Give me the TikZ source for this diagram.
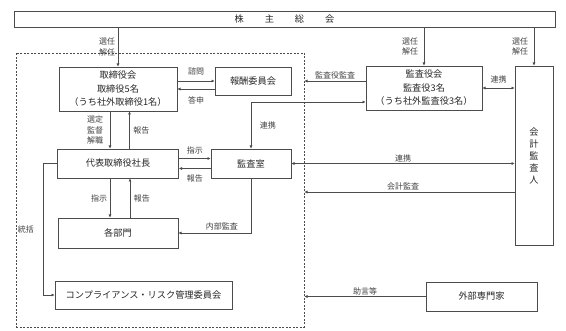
\documentclass[tikz,border=0pt]{standalone}
\usepackage{fontspec}
\setmainfont{Noto Sans CJK JP}
\usetikzlibrary{arrows.meta}

\tikzset{
    box/.style = {draw = black!70, line width = 0.6pt, inner sep = 0pt, align = center, text = black!85, font = \fontsize{9.2}{13.5}\selectfont},
    lbl/.style = {inner sep = 1.5pt, align = center, text = black!75, font = \fontsize{8}{10.5}\selectfont},
    conn/.style = {draw = black!70, line width = 0.6pt}
}

\begin{document}
\begin{tikzpicture}[x = 1pt, y = -1pt, >= {Latex[length = 3.2pt, width = 3pt]}]

    \useasboundingbox (0, 0) rectangle (566, 331);

      %general meeting and company frame
      \node (soukai) at (284.5, 19) [box, minimum width = 541pt, minimum height = 16pt] {株\hspace{21pt}主\hspace{21pt}総\hspace{21pt}会};
      \node (frame) at (160, 190) [draw = black!70, line width = 0.6pt, dash pattern = on 2pt off 1.5pt, inner sep = 0pt, minimum width = 288pt, minimum height = 274pt] {};

      %boxes
      \node (torishimari) at (118, 89) [box, minimum width = 118pt, minimum height = 44pt] {取締役会\\取締役5名\\（うち社外取締役1名）};
      \node (houshu) at (253, 81) [box, minimum width = 76pt, minimum height = 28pt] {報酬委員会};
      \node (kansayaku) at (424, 88) [box, minimum width = 116pt, minimum height = 44pt] {監査役会\\監査役3名\\（うち社外監査役3名）};
      \node (kaikei) at (534, 155.5) [box, minimum width = 38pt, minimum height = 179pt, font = \fontsize{9.2}{12}\selectfont] {会\\計\\監\\査\\人};
      \node (daihyo) at (118, 163.5) [box, minimum width = 121pt, minimum height = 29pt] {代表取締役社長};
      \node (kansashitsu) at (251, 163.5) [box, minimum width = 80pt, minimum height = 29pt] {監査室};
      \node (bumon) at (118, 233) [box, minimum width = 120pt, minimum height = 30pt] {各部門};
      \node (risk) at (143.5, 295) [box, minimum width = 177pt, minimum height = 28pt] {コンプライアンス・リスク管理委員会};
      \node (gaibu) at (481.5, 296.5) [box, minimum width = 111pt, minimum height = 29pt] {外部専門家};

      \coordinate (kansaOut) at ([yshift = 7pt] kansayaku.west);
      \coordinate (kaikeiOut) at ([yshift = -36.5pt] kaikei.west);

      %appointment
      \draw[conn, ->] (soukai.south -| torishimari) -- (torishimari.north) node [lbl, midway, left = 1pt] {選任\\解任};
      \draw[conn, ->] (soukai.south -| kansayaku) -- (kansayaku.north) node [lbl, midway, left = 4pt] {選任\\解任};
      \draw[conn, ->] (soukai.south -| kaikei) -- (kaikei.north) node [lbl, midway, left = 4pt] {選任\\解任};

    %board, committee and president
    \draw[conn, ->] (torishimari.east |- houshu.west) -- (houshu.west) node [lbl, midway, above = 4pt] {諮問};
    \draw[conn, ->] (houshu.west |- torishimari.east) -- (torishimari.east) node [lbl, midway, below = 6pt] {答申};
    \draw[conn, ->] ([xshift = -8pt] torishimari.south) -- ([xshift = -8pt] daihyo.north) node [lbl, midway, left = 5pt] {選定\\監督\\解職};
    \draw[conn, <-] ([xshift = 11.5pt] torishimari.south) -- ([xshift = 11.5pt] daihyo.north) node [lbl, midway, right = 2pt] {報告};

    \draw[conn, ->] ([yshift = 5pt] daihyo.east) -- ([yshift = 5pt] kansashitsu.west) node [lbl, midway, above = 3pt] {指示};
    \draw[conn, <-] ([yshift = -5pt] daihyo.east) -- ([yshift = -5pt] kansashitsu.west) node [lbl, midway, below = 4pt] {報告};
    \draw[conn, ->] ([xshift = -8pt] daihyo.south) -- ([xshift = -8pt] bumon.north) node [lbl, midway, left = 1pt] {指示};
    \draw[conn, <-] ([xshift = 12pt] daihyo.south) -- ([xshift = 12pt] bumon.north) node [lbl, midway, right = 2pt] {報告};
    \draw[conn, ->] (kansashitsu.south) |- (bumon.east) node [lbl, pos = 0.7, above = 1pt] {内部監査};
    \draw[conn, ->] (daihyo.west) -- ++(-14, 0) |- (risk.west) node [lbl, pos = 0.25, left = 7.5pt] {統括};

      %auditors
      \draw[conn, ->] (kansaOut) -- (kansaOut -| frame.east) node [lbl, midway, above] {監査役監査};
      \draw[conn, <->] (kansashitsu.north) |- ([yshift = -14pt] kansayaku.west) node [lbl, pos = 0.25, right = 7pt] {連携};
      \draw[conn, <->] (kansayaku.east) -- (kansayaku.east -| kaikei.west) node [lbl, midway, above = 3pt] {連携};
      \draw[conn, <->] (kansashitsu.east) -- (kansashitsu.east -| kaikei.west) node [lbl, midway, above] {連携};
      \draw[conn, ->] (kaikeiOut) -- (kaikeiOut -| frame.east) node [lbl, pos = 0.53, above] {会計監査};

      %outside advice
      \draw[conn, ->] (gaibu.west) -- (gaibu.west -| frame.east) node [lbl, midway, above] {助言等};

\end{tikzpicture}
\end{document}
